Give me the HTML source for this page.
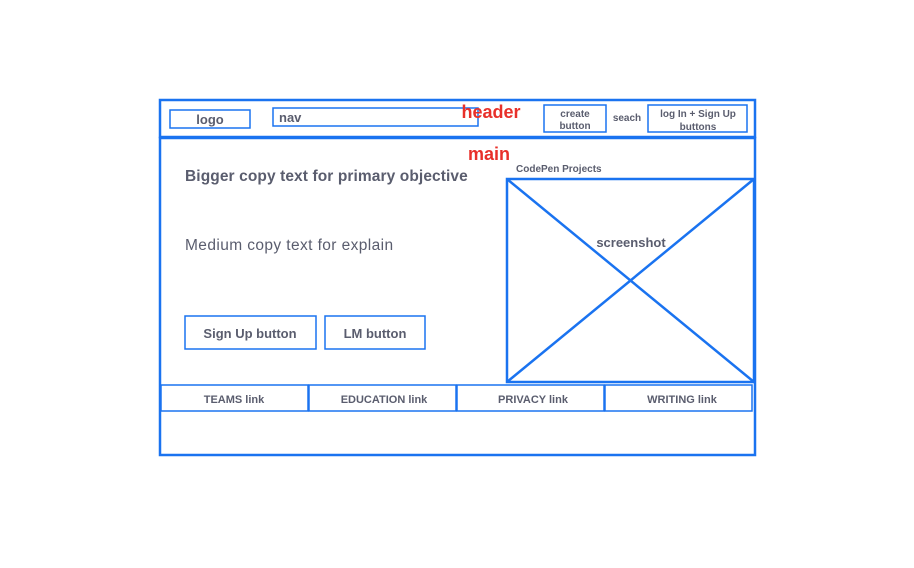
<!DOCTYPE html>
<html><head><meta charset="utf-8"><style>
html,body{margin:0;padding:0;background:#fff;width:914px;height:568px;overflow:hidden}
svg text{font-family:"Liberation Sans",sans-serif;fill:#5a5d6e}
</style></head><body>
<svg width="914" height="568" viewBox="0 0 914 568" xmlns="http://www.w3.org/2000/svg">
<g fill="none" stroke="#1a73f0">
<rect x="160" y="100" width="595" height="37" stroke-width="2.5"/>
<rect x="160" y="138" width="595" height="317" stroke-width="2.5"/>
<rect x="170" y="110" width="80" height="18" stroke-width="1.5"/>
<rect x="273" y="108" width="205" height="18" stroke-width="1.5"/>
<rect x="544" y="105" width="62" height="27" stroke-width="1.5"/>
<rect x="648" y="105" width="99" height="27" stroke-width="1.5"/>
<rect x="507" y="179" width="247" height="203" stroke-width="2.5"/>
<line x1="507" y1="179" x2="754" y2="382" stroke-width="2.5"/>
<line x1="754" y1="179" x2="507" y2="382" stroke-width="2.5"/>
<rect x="185" y="316" width="131" height="33" stroke-width="1.5"/>
<rect x="325" y="316" width="100" height="33" stroke-width="1.5"/>
<rect x="161" y="385" width="147" height="26" stroke-width="1.5"/>
<rect x="309" y="385" width="147" height="26" stroke-width="1.5"/>
<rect x="457" y="385" width="147" height="26" stroke-width="1.5"/>
<rect x="605" y="385" width="147" height="26" stroke-width="1.5"/>
</g>
<text x="210" y="124" font-size="13" font-weight="bold" text-anchor="middle">logo</text>
<text x="279" y="122" font-size="13" font-weight="bold">nav</text>
<text x="491" y="118" font-size="18" font-weight="bold" text-anchor="middle" style="fill:#e8302a">header</text>
<text x="575" y="117" font-size="10" font-weight="bold" text-anchor="middle">create</text>
<text x="575" y="129" font-size="10" font-weight="bold" text-anchor="middle">button</text>
<text x="627" y="121" font-size="10" font-weight="bold" text-anchor="middle">seach</text>
<text x="698" y="117" font-size="10" font-weight="bold" text-anchor="middle">log  In + Sign Up</text>
<text x="698" y="130" font-size="10" font-weight="bold" text-anchor="middle">buttons</text>
<text x="489" y="160" font-size="18" font-weight="bold" text-anchor="middle" style="fill:#e8302a">main</text>
<text x="516" y="172" font-size="10" font-weight="bold">CodePen Projects</text>
<text x="185" y="181" font-size="15.5" font-weight="bold" letter-spacing="0.1">Bigger copy text for primary objective</text>
<text x="185" y="250" font-size="15.5" letter-spacing="0.4">Medium copy text  for explain</text>
<text x="631" y="247" font-size="13" font-weight="bold" text-anchor="middle">screenshot</text>
<text x="250" y="338" font-size="13" font-weight="bold" text-anchor="middle">Sign Up button</text>
<text x="375" y="338" font-size="13" font-weight="bold" text-anchor="middle">LM button</text>
<text x="234" y="403" font-size="11" font-weight="bold" text-anchor="middle">TEAMS link</text>
<text x="384" y="403" font-size="11" font-weight="bold" text-anchor="middle">EDUCATION link</text>
<text x="533" y="403" font-size="11" font-weight="bold" text-anchor="middle">PRIVACY link</text>
<text x="682" y="403" font-size="11" font-weight="bold" text-anchor="middle">WRITING link</text>
</svg>
</body></html>
